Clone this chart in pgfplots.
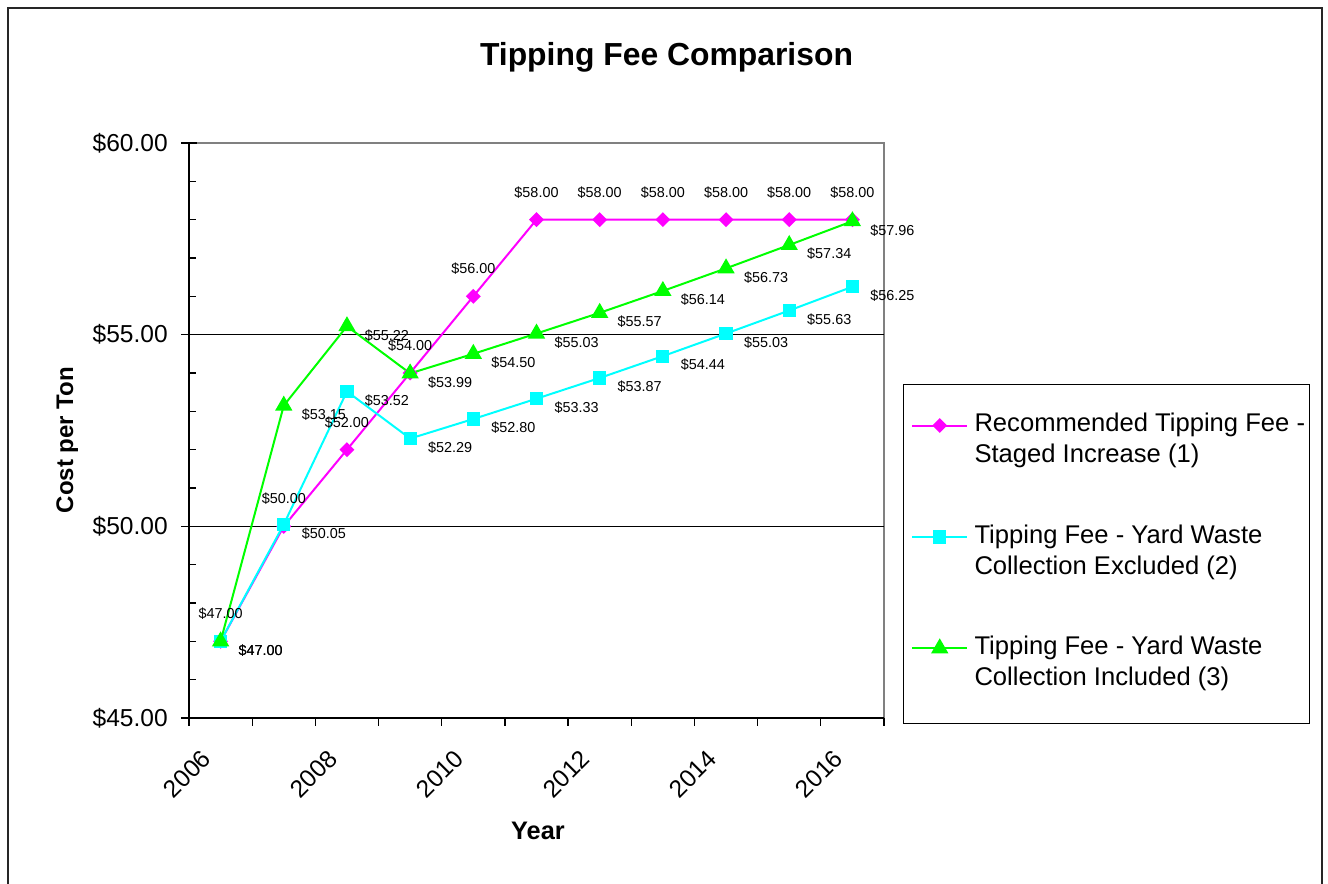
\documentclass[border=0pt]{standalone}
\usepackage{fontspec}
\setmainfont{Liberation Sans}
\usepackage{pgfplots}
\usepackage{pgfplotstable}
\pgfplotsset{compat=1.18}
\pgfplotsset{/pgf/number format/assume math mode=true}
\definecolor{mag}{RGB}{255,0,255}
\definecolor{cyn}{RGB}{0,255,255}
\definecolor{grn}{RGB}{0,255,0}
\pgfplotsset{
  lastlegimg/.style={legend image code/.code={\path (-2.3pt,0pt); \path (0pt,-33pt); \draw[##1, mark repeat=2, mark phase=2, yshift=3.4pt] plot coordinates {(0pt,0pt) (20.625pt,0pt) (41.25pt,0pt)};}}
}

\pgfplotstableread{
x y
0 47.00
1 50.00
2 52.00
3 54.00
4 56.00
5 58.00
6 58.00
7 58.00
8 58.00
9 58.00
10 58.00
}\recommended

\pgfplotstableread{
x y
0 47.00
1 50.05
2 53.52
3 52.29
4 52.80
5 53.33
6 53.87
7 54.44
8 55.03
9 55.63
10 56.25
}\excluded

\pgfplotstableread{
x y
0 47.00
1 53.15
2 55.22
3 53.99
4 54.50
5 55.03
6 55.57
7 56.14
8 56.73
9 57.34
10 57.96
}\included

\begin{document}
\begin{tikzpicture}[x=0.75pt,y=-0.75pt]
\useasboundingbox (0,0) rectangle (1328,884);
\draw[line width=1.5pt, black!85] (8,900) -- (8,8) -- (1322,8) -- (1322,900);

\node[anchor=base, font=\bfseries\fontsize{23.9}{28}\selectfont] at (666.5,66) {Tipping Fee Comparison};
\node[rotate=90, anchor=base, font=\bfseries\fontsize{18}{22}\selectfont] at (73,440) {Cost per Ton};
\node[anchor=base, font=\bfseries\fontsize{19}{22}\selectfont] at (538,839) {Year};

\begin{axis}[
  at={(141.75pt,-538.5pt)}, anchor=south west,
  scale only axis, width=521.25pt, height=431.25pt,
  xmin=-0.5, xmax=10.5, ymin=45, ymax=60,
  clip=false,
  axis line style={draw=none},
  major tick length=0pt, minor tick length=0pt,
  xtick={0,2,4,6,8,10},
  xticklabels={2006,2008,2010,2012,2014,2016},
  ytick={45,50,55,60},
  yticklabels={\$45.00,\$50.00,\$55.00,\$60.00},
  xticklabel style={xshift=-10.4pt, yshift=-27.2pt, rotate=45, anchor=east, inner sep=0pt, font=\fontsize{18.4}{22}\selectfont},
  yticklabel style={anchor=east, inner sep=0pt, xshift=-15.75pt, font=\fontsize{18.4}{22}\selectfont},
  legend style={at={(1.02734,0.58087)}, anchor=north west, draw=black, line width=0.75pt,
    inner xsep=3.5pt, inner ysep=19.2pt,
    font=\fontsize{19.2}{23.25}\selectfont,
    row sep=53.6pt,
    nodes={inner sep=0pt, anchor=west},
    /tikz/every odd column/.append style={column sep=4.7pt}},
  legend image code/.code={\path (-2.3pt,0pt); \draw[#1, mark repeat=2, mark phase=2, yshift=3.4pt] plot coordinates {(0pt,0pt) (20.625pt,0pt) (41.25pt,0pt)};},
  nodes near coords={\$\pgfmathprintnumber[fixed,fixed zerofill,precision=2]{\pgfplotspointmeta}},
  every node near coord/.append style={font=\fontsize{10.8}{13}\selectfont, inner sep=0pt, text=black},
]
% frame and grid
\draw[gray, line width=1.5pt] (axis cs:-0.5,60) -- (axis cs:10.5,60) -- (axis cs:10.5,45);
\draw[black, line width=0.75pt] (axis cs:-0.5,50) -- (axis cs:10.5,50);
\draw[black, line width=0.75pt] (axis cs:-0.5,55) -- (axis cs:10.5,55);

\addplot[color=mag, line width=1.5pt, mark=square*, mark size=3.2pt,
  mark options={rotate=45, solid, fill=mag},
  every node near coord/.append style={anchor=center, yshift=20.5pt}]
  table[x=x, y=y] {\recommended};
\addlegendentry{\begin{tabular}{@{}l@{}}Recommended Tipping Fee -\\Staged Increase (1)\end{tabular}}

\addplot[color=cyn, line width=1.5pt, mark=square*, mark size=4.2pt,
  mark options={solid, fill=cyn},
  every node near coord/.append style={anchor=west, xshift=12.75pt, yshift=-6.75pt}]
  table[x=x, y=y] {\excluded};
\addlegendentry{\begin{tabular}{@{}l@{}}Tipping Fee - Yard Waste\\Collection Excluded (2)\end{tabular}}

\addplot[color=grn, line width=1.5pt, mark=triangle*, mark size=6pt,
  mark options={solid, fill=grn},
  every node near coord/.append style={anchor=west, xshift=12.75pt, yshift=-6.75pt},
  lastlegimg]
  table[x=x, y=y] {\included};
\addlegendentry{\begin{tabular}{@{}l@{}}Tipping Fee - Yard Waste\\Collection Included (3)\end{tabular}}

% axis lines and ticks
\draw[black, line width=1.5pt] (axis cs:-0.5,60) -- (axis cs:-0.5,45) -- (axis cs:10.5,45);
\pgfplotsinvokeforeach{-0.5,0.5,1.5,2.5,3.5,4.5,5.5,6.5,7.5,8.5,9.5,10.5}{
  \draw[black, line width=1pt] (axis cs:#1,45) -- ++(0pt,-6pt);
}
\pgfplotsinvokeforeach{45,50,55,60}{
  \draw[black, line width=1pt] (axis cs:-0.5,#1) ++(-6pt,0pt) -- ++(12pt,0pt);
}
\pgfplotsinvokeforeach{46,47,48,49,51,52,53,54,56,57,58,59}{
  \draw[black, line width=1pt] (axis cs:-0.5,#1) -- ++(5.25pt,0pt);
}
\end{axis}
\end{tikzpicture}
\end{document}
